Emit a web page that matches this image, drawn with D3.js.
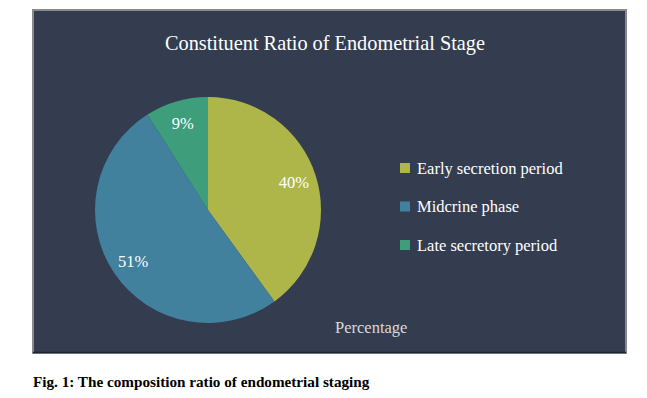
<!DOCTYPE html>
<html><head><meta charset="utf-8">
<script src="https://cdn.jsdelivr.net/npm/d3@7"></script>
<style>body{margin:0;background:#fff}svg{display:block}</style>
</head><body>
<svg id="c" width="647" height="398"></svg>
<script>
const categories = ["Early secretion period", "Midcrine phase", "Late secretory period"];
const values = [40, 51, 9];
const labels = ["40%", "51%", "9%"];
const colors = ["#aeb64a", "#41819e", "#3e9e7c"];
const title = "Constituent Ratio of Endometrial Stage";
const seriesName = "Percentage";
const caption = "Fig. 1: The composition ratio of endometrial staging";

const svg = d3.select("#c");
const serif = "'Liberation Serif','Times New Roman',serif";

// frame
svg.append("rect").attr("x", 33).attr("y", 10).attr("width", 593).attr("height", 343)
  .attr("fill", "#343d4f").attr("stroke", "#8a8a8a").attr("stroke-width", 2);
svg.append("line").attr("x1", 33).attr("x2", 626).attr("y1", 352.5).attr("y2", 352.5)
  .attr("stroke", "#1e2430").attr("stroke-width", 1.5);

svg.append("text").attr("x", 325).attr("y", 50).attr("text-anchor", "middle")
  .attr("font-family", serif).attr("font-size", 20.3).attr("fill", "#ffffff").text(title);

const cx = 208, cy = 210, r = 113;
const pie = d3.pie().sort(null).value(d => d)(values);
const arc = d3.arc().innerRadius(0).outerRadius(r);
const labelArc = d3.arc().innerRadius(r * 0.8).outerRadius(r * 0.8);
const g = svg.append("g").attr("transform", `translate(${cx},${cy})`);
g.selectAll("path").data(pie).join("path").attr("d", arc).attr("fill", (d, i) => colors[i]);
g.selectAll("text").data(pie).join("text")
  .attr("transform", d => `translate(${labelArc.centroid(d)})`)
  .attr("text-anchor", "middle").attr("dy", "0.35em")
  .attr("font-family", serif).attr("font-size", 16.5).attr("fill", "#ffffff")
  .text((d, i) => labels[i]);

const lg = svg.append("g");
const ly = d3.scalePoint().domain(categories).range([168, 245]);
categories.forEach((c, i) => {
  lg.append("rect").attr("x", 400).attr("y", ly(c) - 5).attr("width", 10).attr("height", 10).attr("fill", colors[i]);
  lg.append("text").attr("x", 417).attr("y", ly(c)).attr("dy", "0.35em")
    .attr("font-family", serif).attr("font-size", 16.5).attr("fill", "#ffffff").text(c);
});

svg.append("text").attr("x", 335).attr("y", 333)
  .attr("font-family", serif).attr("font-size", 16.5).attr("fill", "#d9d9d9").text(seriesName);

svg.append("text").attr("x", 33).attr("y", 387)
  .attr("font-family", serif).attr("font-size", 15.2).attr("font-weight", "bold").attr("fill", "#000").text(caption);
</script>
</body></html>
